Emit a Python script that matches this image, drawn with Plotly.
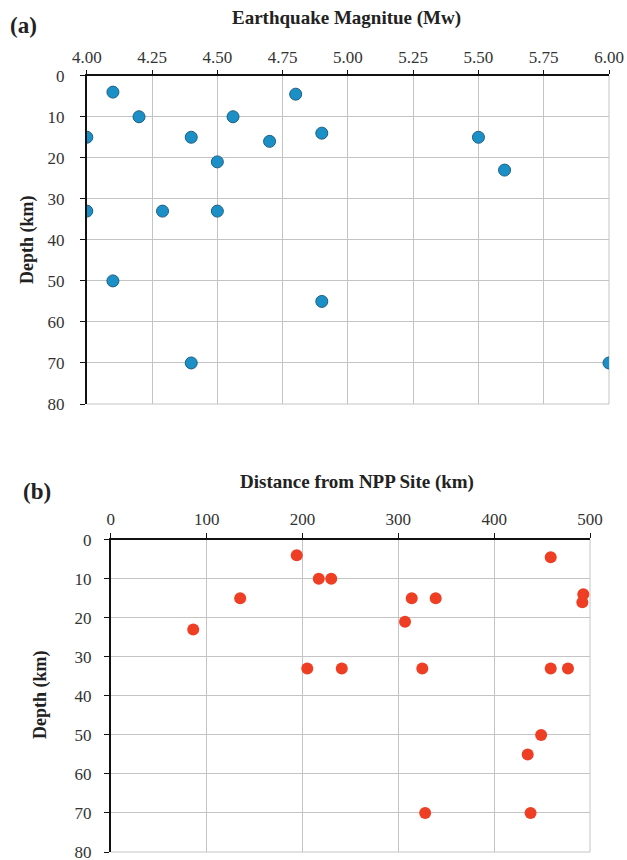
import plotly.graph_objects as go

# Panel (a): magnitude vs depth
mag = [4.10, 4.80, 4.20, 4.56, 4.00, 4.40, 4.50, 4.70, 4.90, 5.50, 5.60,
       4.00, 4.29, 4.50, 4.10, 4.90, 4.40, 6.00]
depth_a = [4, 4.5, 10, 10, 15, 15, 21, 16, 14, 15, 23,
           33, 33, 33, 50, 55, 70, 70]

# Panel (b): distance vs depth
dist = [194, 459, 217, 230, 135, 314, 339, 493, 492, 86, 307,
        205, 241, 325, 459, 477, 449, 435, 328, 438]
depth_b = [4, 4.5, 10, 10, 15, 15, 15, 14, 16, 23, 21,
           33, 33, 33, 33, 33, 50, 55, 70, 70]

mag_ticks = [4.0, 4.25, 4.5, 4.75, 5.0, 5.25, 5.5, 5.75, 6.0]
mag_labels = ["4.00", "4.25", "4.50", "4.75", "5.00", "5.25", "5.50", "5.75", "6.00"]
dist_ticks = [0, 100, 200, 300, 400, 500]
depth_ticks = [0, 10, 20, 30, 40, 50, 60, 70, 80]

W, H = 627, 860
FONT = "'Liberation Serif', 'Times New Roman', 'DejaVu Serif', serif"

fig = go.Figure()
fig.add_trace(go.Scatter(
    x=mag, y=depth_a, mode="markers", xaxis="x", yaxis="y",
    marker=dict(size=12, color="#1b90c7", line=dict(color="#1d5f82", width=1)),
    showlegend=False))
fig.add_trace(go.Scatter(
    x=dist, y=depth_b, mode="markers", xaxis="x2", yaxis="y2",
    marker=dict(size=12, color="#ee3e24", line=dict(width=0)),
    showlegend=False))

def px_x(p):
    return p / W

def px_y(p):
    return 1 - p / H

def ax(**kw):
    d = dict(
        showgrid=True, gridcolor="#c4c4c4", gridwidth=1,
        showline=True, linecolor="#111111", linewidth=2,
        ticks="outside", ticklen=5, tickcolor="#111111", tickwidth=1,
        tickfont=dict(family=FONT, size=17, color="#333333"),
        zeroline=False, automargin=False, ticklabeloverflow="allow",
    )
    d.update(kw)
    return d

fig.update_layout(
    width=W, height=H,
    margin=dict(l=0, r=0, t=0, b=0, pad=0, autoexpand=False),
    font=dict(family=FONT, color="#333333"),
    paper_bgcolor="white", plot_bgcolor="white",
    xaxis=ax(domain=[px_x(86.8), px_x(609)], range=[4, 6], side="top",
             tickvals=mag_ticks, ticktext=mag_labels, anchor="y",
             ticklen=4, ticklabelstandoff=0),
    yaxis=ax(domain=[px_y(404), px_y(75.7)], range=[80, 0],
             tickvals=depth_ticks, anchor="x", ticklabelstandoff=12),
    xaxis2=ax(domain=[px_x(110.8), px_x(590)], range=[0, 500], side="top",
              tickvals=dist_ticks, anchor="y2", ticklabelstandoff=1),
    yaxis2=ax(domain=[px_y(852), px_y(539.7)], range=[80, 0],
              tickvals=depth_ticks, anchor="x2", ticklabelstandoff=9),
)

# edge gridlines (right and bottom borders in grey)
for xr, yr in (("x", "y"), ("x2", "y2")):
    fig.add_shape(type="line", xref=f"{xr} domain", yref=f"{yr} domain",
                  x0=1, x1=1, y0=0, y1=1, line=dict(color="#c4c4c4", width=1), layer="below")
    fig.add_shape(type="line", xref=f"{xr} domain", yref=f"{yr} domain",
                  x0=0, x1=1, y0=0, y1=0, line=dict(color="#c4c4c4", width=1), layer="below")

bold = dict(family=FONT, color="#222222")
ann = [
    dict(text="<b>(a)</b>", x=px_x(23), y=px_y(25), font=dict(size=23, **bold)),
    dict(text="<b>Earthquake Magnitue (Mw)</b>", x=px_x(346), y=px_y(18), font=dict(size=19, **bold)),
    dict(text="<b>Depth (km)</b>", x=px_x(27), y=px_y(240), textangle=-90, font=dict(size=18, **bold)),
    dict(text="<b>(b)</b>", x=px_x(37), y=px_y(492), font=dict(size=23, **bold)),
    dict(text="<b>Distance from NPP Site (km)</b>", x=px_x(357), y=px_y(482), font=dict(size=19, **bold)),
    dict(text="<b>Depth (km)</b>", x=px_x(40), y=px_y(695), textangle=-90, font=dict(size=18, **bold)),
]
for a in ann:
    fig.add_annotation(xref="paper", yref="paper", showarrow=False,
                       xanchor="center", yanchor="middle", **a)

fig.write_html("out.html")
